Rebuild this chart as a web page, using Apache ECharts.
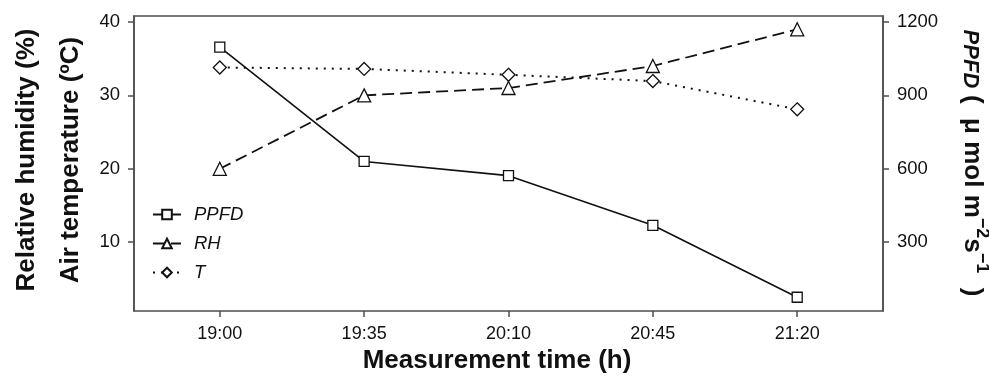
<!DOCTYPE html>
<html>
<head>
<meta charset="utf-8">
<script src="https://cdn.jsdelivr.net/npm/echarts@6/dist/echarts.min.js"></script>
<style>
  html, body { margin: 0; padding: 0; background: #fff; }
  #chart { width: 989px; height: 379px; }
</style>
</head>
<body>
<div id="chart"></div>
<script>
// time labels and their offset in minutes from 19:00
const times = ["19:00", "19:35", "20:10", "20:45", "21:20"];
const minutes = [0, 35, 70, 105, 140];
// series
const ppfd = [1097, 630, 572, 369, 75];
const rh = [20, 30, 31, 34, 39];
const temp = [33.8, 33.6, 32.8, 31.95, 28.1];
const leftTicks = [10, 20, 30, 40];
const rightTicks = [300, 600, 900, 1200];

const FONT = "Liberation Sans, Arial, Helvetica, sans-serif";
const INK = "#111";
const FRAME = "#4d4d4d";

// left axis limits; right axis is the same scale x30
const leftMin = 0.63, leftMax = 40.81;

const chart = echarts.init(document.getElementById("chart"));

const pts = (vals) => minutes.map((m, i) => [m, vals[i]]);

const markerStyle = { color: "#fff", borderColor: INK, borderWidth: 1.3 };

const boldTitle = (text, x, y, rotation) => ({
  type: "text",
  x, y, rotation,
  style: {
    text,
    fontSize: 26, fontWeight: "bold", fontFamily: FONT, fill: INK,
    align: "center", verticalAlign: "middle",
  },
});

chart.setOption({
  animation: false,
  textStyle: { fontFamily: FONT },
  grid: {
    left: 134, right: 106, top: 16, bottom: 68,
    show: true, borderColor: FRAME, borderWidth: 1.5, backgroundColor: "transparent",
  },
  legend: {
    orient: "vertical",
    left: 152,
    top: 205,
    padding: 0,
    itemWidth: 28,
    itemHeight: 12,
    itemGap: 10,
    textStyle: { fontSize: 18.5, fontStyle: "italic", color: INK, fontFamily: FONT, padding: [0, 0, 0, 8] },
    data: ["PPFD", "RH", "T"],
  },
  xAxis: {
    type: "value",
    min: -20.8,
    max: 160.8,
    axisLine: { show: false, onZero: false },
    splitLine: { show: false },
    axisTick: { show: true, length: 6, customValues: minutes, lineStyle: { color: FRAME, width: 1.5 } },
    axisLabel: {
      customValues: minutes,
      margin: 14,
      fontSize: 18,
      color: INK,
      formatter: (v) => times[minutes.indexOf(v)] || "",
    },
  },
  yAxis: [
    {
      type: "value",
      position: "left",
      min: leftMin,
      max: leftMax,
      splitLine: { show: false },
      axisLine: { show: true, onZero: false, lineStyle: { color: FRAME, width: 1.5 } },
      axisTick: { show: true, length: 6, customValues: leftTicks, lineStyle: { color: FRAME, width: 1.5 } },
      axisLabel: { customValues: leftTicks, margin: 14, fontSize: 18.5, color: INK },
    },
    {
      type: "value",
      position: "right",
      min: leftMin * 30,
      max: leftMax * 30,
      splitLine: { show: false },
      axisLine: { show: true, onZero: false, lineStyle: { color: FRAME, width: 1.5 } },
      axisTick: { show: true, length: 6, customValues: rightTicks, lineStyle: { color: FRAME, width: 1.5 } },
      axisLabel: { customValues: rightTicks, margin: 14, fontSize: 18.5, color: INK, formatter: (v) => String(v) },
    },
  ],
  graphic: [
    boldTitle("Relative humidity (%)", 27, 160, Math.PI / 2),
    boldTitle("Air temperature (ºC)", 71, 160, Math.PI / 2),
    boldTitle("Measurement time (h)", 497, 361, 0),
    {
      type: "text",
      x: 975, y: 163, rotation: -Math.PI / 2,
      style: {
        text: "{i|PPFD} {b|(  μ mol m}{s|−2}{b|s}{s|−1}{b|  )}",
        fontFamily: FONT, fill: INK, fontSize: 24, fontWeight: "bold",
        align: "center", verticalAlign: "middle",
        rich: {
          i: { fontSize: 22, fontWeight: "bold", fontStyle: "italic", fontFamily: FONT, fill: INK, lineHeight: 32, verticalAlign: "bottom" },
          b: { fontSize: 26, fontWeight: "bold", fontFamily: FONT, fill: INK, lineHeight: 32, verticalAlign: "bottom" },
          s: { fontSize: 18, fontWeight: "bold", fontFamily: FONT, fill: INK, lineHeight: 32, verticalAlign: "top" },
        },
      },
    },
  ],
  series: [
    {
      name: "PPFD",
      type: "line",
      yAxisIndex: 1,
      data: pts(ppfd),
      symbol: "rect",
      symbolSize: 10,
      itemStyle: markerStyle,
      lineStyle: { color: INK, width: 1.6, type: "solid" },
      z: 3,
    },
    {
      name: "RH",
      type: "line",
      yAxisIndex: 0,
      data: pts(rh),
      symbol: "triangle",
      symbolSize: 13,
      itemStyle: markerStyle,
      lineStyle: { color: INK, width: 1.8, type: [12, 6] },
      z: 2,
    },
    {
      name: "T",
      type: "line",
      yAxisIndex: 0,
      data: pts(temp),
      symbol: "diamond",
      symbolSize: 13,
      itemStyle: markerStyle,
      lineStyle: { color: INK, width: 2, type: [2, 6] },
      z: 2,
    },
  ],
});
</script>
</body>
</html>
